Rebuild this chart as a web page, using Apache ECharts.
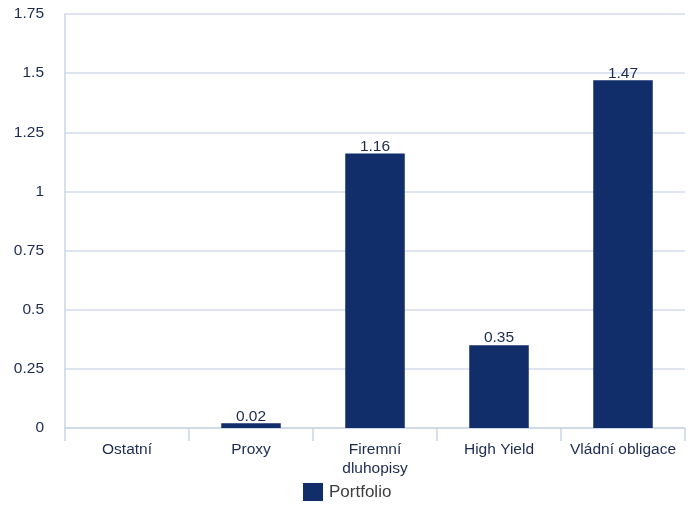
<!DOCTYPE html>
<html><head><meta charset="utf-8">
<script src="https://cdn.jsdelivr.net/npm/echarts@6/dist/echarts.min.js"></script>
<style>html,body{margin:0;padding:0;background:#fff}#c{width:695px;height:505px}</style>
</head><body><div id="c"></div>
<script>
const categories = ['Ostatní', 'Proxy', 'Firemní\ndluhopisy', 'High Yield', 'Vládní obligace'];
const portfolio = [null, 0.02, 1.16, 0.35, 1.47];
const seriesName = 'Portfolio';

const chart = echarts.init(document.getElementById('c'));
chart.setOption({
  animation: false,
  textStyle: { fontFamily: 'Liberation Sans, Arial, sans-serif' },
  grid: { left: 65, right: 10, top: 14, bottom: 77, containLabel: false },
  legend: {
    top: 483, left: 303,
    itemWidth: 20, itemHeight: 18, itemGap: 10,
    icon: 'rect',
    textStyle: { color: '#3d3d3d', fontSize: 17, padding: [0, 0, 0, 1] },
    data: [seriesName],
    padding: 0
  },
  xAxis: {
    type: 'category', data: categories,
    axisLine: { lineStyle: { color: '#c9d5e6', width: 1.5 } },
    axisTick: { show: true, length: 13, lineStyle: { color: '#c9d5e6', width: 1.5 } },
    axisLabel: { color: '#1c2b4f', fontSize: 15.5, margin: 12, lineHeight: 19, interval: 0 }
  },
  yAxis: {
    type: 'value', min: 0, max: 1.75, interval: 0.25,
    axisLine: { show: true, lineStyle: { color: '#c9d5e6', width: 1.5 } },
    axisTick: { show: false },
    splitLine: { lineStyle: { color: '#d3ddeb', width: 1.5 } },
    axisLabel: { color: '#1c2b4f', fontSize: 15.5, margin: 21,
      formatter: v => String(v) }
  },
  series: [{
    name: seriesName, type: 'bar', data: portfolio,
    barWidth: '48%',
    itemStyle: { color: '#112d6a' },
    label: { show: true, position: 'top', distance: -1, color: '#1c2b4f', fontSize: 15.5 }
  }]
});
</script></body></html>
